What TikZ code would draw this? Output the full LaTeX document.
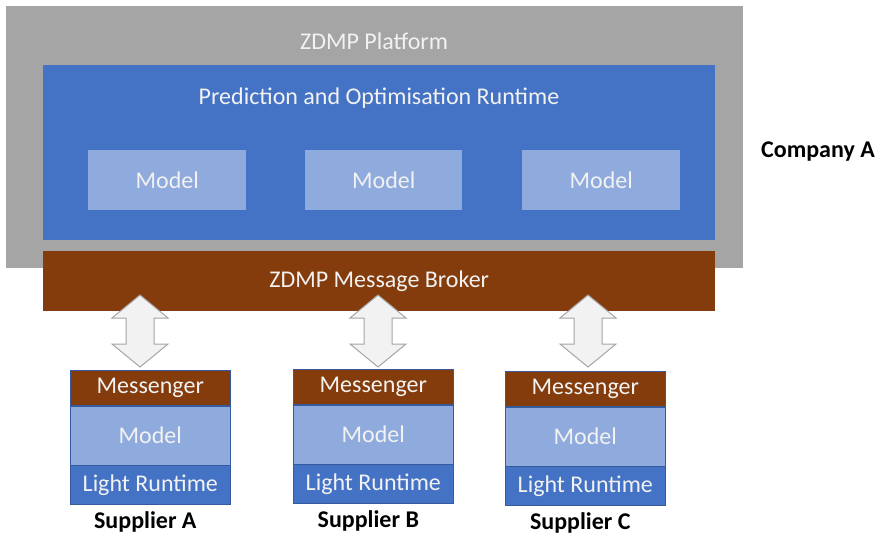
\documentclass[tikz,border=0pt]{standalone}
\usepackage{fontspec}
\setmainfont{Carlito}
\usetikzlibrary{positioning}
\definecolor{zgray}{HTML}{A5A5A5}
\definecolor{zblue}{HTML}{4472C4}
\definecolor{zlight}{HTML}{8FAADC}
\definecolor{zbrown}{HTML}{843C0C}
\definecolor{zarrow}{HTML}{F2F2F2}
\definecolor{ztext}{HTML}{F2F2F2}
\begin{document}
\begin{tikzpicture}[x=1pt,y=-1pt,
    every node/.style={font=\fontsize{24}{28}\selectfont},
    box/.style={rectangle, inner sep=0pt, text=ztext, anchor=north west},
    band/.style={rectangle, inner sep=0pt, text=ztext, minimum width=160,
      draw=zblue!80!black, line width=0.6pt},
    caption/.style={text=black, font=\fontsize{24}{28}\selectfont\bfseries},
    updown/.style={fill=zarrow, draw=zgray, line width=1pt, line join=miter}]
  \useasboundingbox (0,0) rectangle (880,538);
  % company side
  \node[box, fill=zgray, minimum width=737, minimum height=262] (platform) at (6,6) {};
  \node[text=ztext] (platformtxt) at (374,41) {ZDMP Platform};
  \node[box, fill=zblue, minimum width=672, minimum height=175] (runtime) at (43,65) {};
  \node[text=ztext] (runtimetxt) at (379,98) {Prediction and Optimisation Runtime};
  \node[box, fill=zlight, minimum width=158, minimum height=60] (model1) at (88,150) {Model};
  \node[box, fill=zlight, minimum width=157, minimum height=60] (model2) at (305,150) {Model};
  \node[box, fill=zlight, minimum width=158, minimum height=60] (model3) at (522,150) {Model};
  \node[box, fill=zbrown, minimum width=672, minimum height=60] (broker) at (43,251) {ZDMP Message Broker};
  \node[caption] (company) at (818,152) {Company A};
  % suppliers
  \foreach \s/\x/\y in {A/70/370, B/293/369, C/505/371} {
    \node[band, fill=zbrown, minimum height=35, anchor=north west] (msg\s) at (\x,\y) {Messenger};
    \node[band, fill=zlight, minimum height=59, below=0pt of msg\s] (mdl\s) {Model};
    \node[band, fill=zblue, minimum height=39, below=0pt of mdl\s] (lrt\s) {Light Runtime};
    \node[caption, below=3pt of lrt\s, xshift=-5pt] (sup\s) {Supplier \s};
  }
  % exchange arrows
  \foreach \c/\s in {140/A, 378/B, 588/C} {
    \coordinate (top\s) at (\c,295);
    \coordinate (bot\s) at (\c,367);
    \draw[updown] (top\s) -- ++(28,23) -- ++(-14,0) -- ++(0,26) -- ++(14,0) -- (bot\s)
      -- ++(-28,-23) -- ++(14,0) -- ++(0,-26) -- ++(-14,0) -- cycle;
  }
\end{tikzpicture}
\end{document}
